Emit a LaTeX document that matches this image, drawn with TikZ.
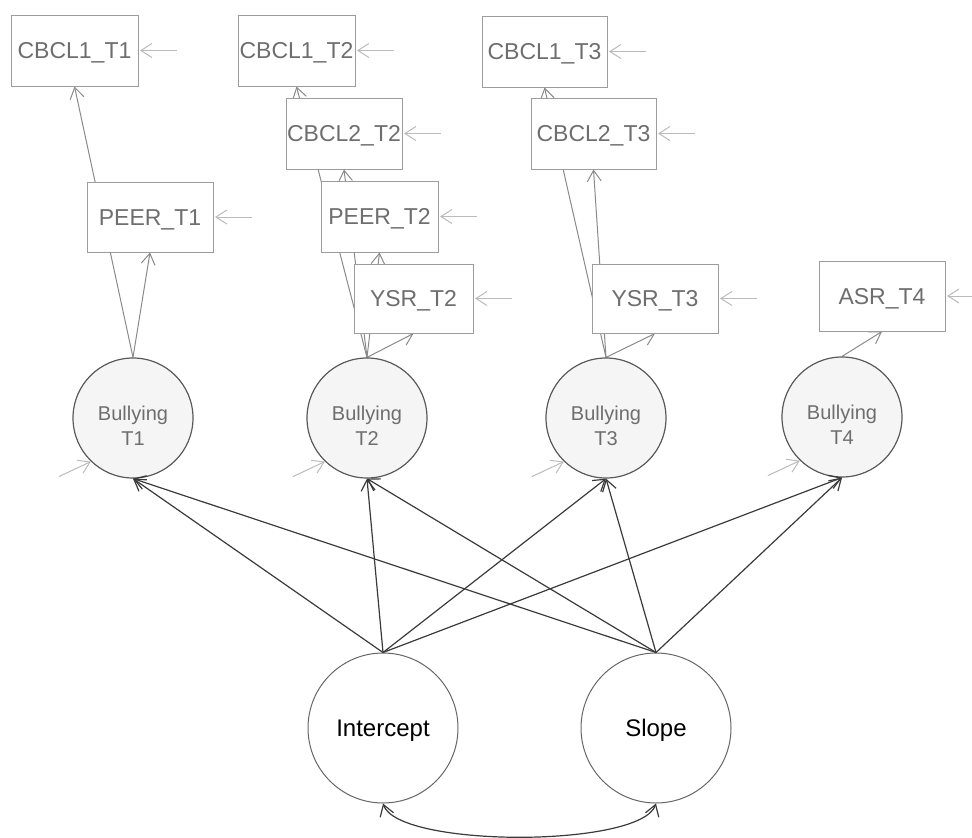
\documentclass[tikz,border=0pt]{standalone}
\usepackage{fontspec}
\setmainfont{Liberation Sans}
\usetikzlibrary{arrows.meta,backgrounds}
\definecolor{boxline}{HTML}{9C9C9C}
\definecolor{txtgray}{HTML}{6E6E6E}
\definecolor{loadgray}{HTML}{8A8A8A}
\definecolor{residgray}{HTML}{BBBBBB}
\definecolor{darkline}{HTML}{3A3A3A}
\definecolor{circline}{HTML}{5A5A5A}
\definecolor{latfill}{HTML}{F5F5F5}
\definecolor{facline}{HTML}{666666}
\begin{document}
\begin{tikzpicture}[x=1pt,y=-1pt,
  >={Straight Barb[length=11pt,width=14pt]},
  obs/.style={draw=boxline, line width=1pt, fill=white, inner sep=0pt,
    text=txtgray, font=\fontsize{23}{27}\selectfont,
    text height=16.5pt, text depth=0pt},
  lat/.style={circle, draw=circline, line width=1.2pt, fill=latfill, inner sep=0pt,
    minimum size=120pt, text=txtgray, font=\fontsize{20}{25}\selectfont, align=center},
  fac/.style={circle, draw=facline, line width=1pt, fill=white, inner sep=0pt,
    minimum size=150pt, font=\fontsize{24}{28}\selectfont,
    text height=17.2pt, text depth=0pt},
  load/.style={draw=loadgray, line width=1pt, ->},
  resid/.style={draw=residgray, line width=1pt, <-},
  regr/.style={draw=darkline, line width=1.2pt, ->},
]
\useasboundingbox (0,0) rectangle (972,838);

% observed indicators
\node[obs, minimum width=127pt, minimum height=71pt] (c1t1) at (74.5,50.5) {CBCL1\_T1};
\node[obs, minimum width=126pt, minimum height=70pt] (p1)   at (150,217)   {PEER\_T1};
\node[obs, minimum width=117pt, minimum height=71pt] (c1t2) at (296.5,50.5) {CBCL1\_T2};
\node[obs, minimum width=116pt, minimum height=71pt] (c2t2) at (344,133.5) {CBCL2\_T2};
\node[obs, minimum width=117pt, minimum height=71pt] (p2)   at (379.5,216.5) {PEER\_T2};
\node[obs, minimum width=119pt, minimum height=69pt] (y2)   at (413.5,298.5) {YSR\_T2};
\node[obs, minimum width=125pt, minimum height=71pt] (c1t3) at (544.5,51.5) {CBCL1\_T3};
\node[obs, minimum width=125pt, minimum height=71pt] (c2t3) at (593.5,133.5) {CBCL2\_T3};
\node[obs, minimum width=126pt, minimum height=69pt] (y3)   at (655,298.5) {YSR\_T3};
\node[obs, minimum width=126pt, minimum height=70pt] (a4)   at (882,296)   {ASR\_T4};

% latent bullying
\node[lat] (b1) at (133,418) {\rule{0pt}{30pt}Bullying\\T1};
\node[lat] (b2) at (367,418) {\rule{0pt}{30pt}Bullying\\T2};
\node[lat] (b3) at (606,418) {\rule{0pt}{30pt}Bullying\\T3};
\node[lat] (b4) at (842,417) {\rule{0pt}{30pt}Bullying\\T4};

% growth factors
\node[fac] (int) at (383,728) {Intercept};
\node[fac] (slo) at (656,728) {Slope};

\begin{pgfonlayer}{background}
% loadings
\draw[load] (b1.north) -- (c1t1.south);
\draw[load] (b1.north) -- (p1.south);
\draw[load] (b2.north) -- (c1t2.south);
\draw[load] (b2.north) -- (c2t2.south);
\draw[load] (b2.north) -- (p2.south);
\draw[load] (b2.north) -- (y2.south);
\draw[load] (b3.north) -- (c1t3.south);
\draw[load] (b3.north) -- (c2t3.south);
\draw[load] (b3.north) -- (y3.south);
\draw[load] (b4.north) -- (a4.south);
\end{pgfonlayer}

% residuals of indicators
\foreach \n in {c1t1,p1,c1t2,c2t2,p2,y2,c1t3,c2t3,y3,a4}
  \draw[resid] ([xshift=1.5pt]\n.east) -- ++(37,0);

% residuals of latent variables
\foreach \n in {b1,b2,b3,b4}
  \draw[resid] (\n.226) -- ++(-32,15);

% growth paths
\foreach \b in {b1,b2,b3,b4}{
  \draw[regr] (int.north) -- (\b.south);
  \draw[regr] (slo.north) -- (\b.south);
}

% covariance
\draw[draw=darkline, line width=1.2pt, <->] (int.south) .. controls (398,848) and (641,848) .. (slo.south);
\end{tikzpicture}
\end{document}
